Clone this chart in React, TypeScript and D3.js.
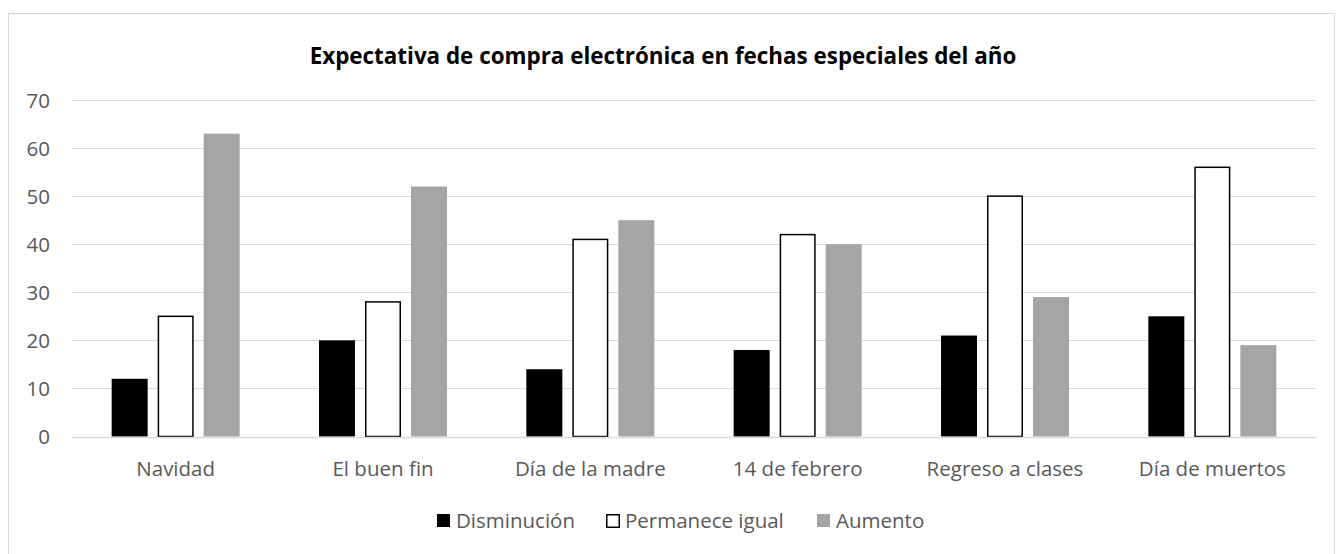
import React from 'react'
import * as d3 from 'd3'

const categories = ['Navidad', 'El buen fin', 'Día de la madre', '14 de febrero', 'Regreso a clases', 'Día de muertos']
const seriesNames = ['Disminución', 'Permanece igual', 'Aumento']
const disminucion = [12, 20, 14, 18, 21, 25]
const permanece = [25, 28, 41, 42, 50, 56]
const aumento = [63, 52, 45, 40, 29, 19]
const yTicks = [0, 10, 20, 30, 40, 50, 60, 70]

const seriesValues = [disminucion, permanece, aumento]
const fills = ['#000000', '#ffffff', '#a5a5a5']
const strokes = ['none', '#000000', 'none']

const W = 1336
const H = 554
const margin = { top: 100, right: 20, bottom: 117.5, left: 72 }
const font = '"Open Sans", "Noto Sans", sans-serif'
const textColor = '#595959'

export default function App() {
  const x0 = d3.scaleBand<string>()
    .domain(categories)
    .range([margin.left, W - margin.right])
    .paddingInner(0.3826)
    .paddingOuter(0.1913)

  const x1 = d3.scaleBand<string>()
    .domain(seriesNames)
    .range([0, x0.bandwidth()])
    .paddingInner(10 / 46)
    .paddingOuter(0)

  const y = d3.scaleLinear()
    .domain([0, 70])
    .range([H - margin.bottom, margin.top])

  const legendX = [437, 606, 817]

  return (
    <svg width={W} height={H} style={{ position: 'absolute', left: 0, top: 0, background: '#fff' }}>
      <rect x={8.5} y={13.5} width={1326} height={560} fill="#fff" stroke="#d9d9d9" strokeWidth={1} />

      <text x={663} y={64} textAnchor="middle" fontFamily={font} fontWeight="bold" fontSize={22.4} fill="#000">
        Expectativa de compra electrónica en fechas especiales del año
      </text>

      {yTicks.map((t) => (
        <g key={t}>
          <line
            x1={margin.left}
            x2={W - margin.right}
            y1={Math.round(y(t)) + 0.5}
            y2={Math.round(y(t)) + 0.5}
            stroke="#d9d9d9"
            strokeWidth={1}
          />
          <text x={50} y={y(t) + 7.5} textAnchor="end" fontFamily={font} fontSize={20.5} fill={textColor}>
            {t}
          </text>
        </g>
      ))}

      {categories.map((c, i) => (
        <g key={c} transform={`translate(${x0(c)},0)`}>
          {seriesNames.map((s, k) => {
            const v = seriesValues[k][i]
            const bx = x1(s) as number
            const isOutlined = strokes[k] !== 'none'
            return (
              <rect
                key={s}
                x={isOutlined ? bx + 0.75 : bx}
                y={y(v)}
                width={isOutlined ? x1.bandwidth() - 1.5 : x1.bandwidth()}
                height={y(0) - y(v)}
                fill={fills[k]}
                stroke={strokes[k]}
                strokeWidth={1.5}
              />
            )
          })}
          <text
            x={x0.bandwidth() / 2}
            y={476}
            textAnchor="middle"
            fontFamily={font}
            fontSize={20.5}
            fill={textColor}
          >
            {c}
          </text>
        </g>
      ))}

      <line x1={margin.left} x2={W - margin.right} y1={Math.round(y(0)) + 0.5} y2={Math.round(y(0)) + 0.5} stroke="#d9d9d9" strokeWidth={1.5} />

      {seriesNames.map((s, k) => (
        <g key={s} transform={`translate(${legendX[k]},514)`}>
          <rect
            x={strokes[k] !== 'none' ? 0.75 : 0}
            y={strokes[k] !== 'none' ? 0.75 : 0}
            width={strokes[k] !== 'none' ? 12.5 : 13}
            height={strokes[k] !== 'none' ? 12.5 : 13}
            fill={fills[k]}
            stroke={strokes[k]}
            strokeWidth={1.5}
          />
          <text x={19} y={14} fontFamily={font} fontSize={20.5} fill={textColor}>
            {s}
          </text>
        </g>
      ))}
    </svg>
  )
}
